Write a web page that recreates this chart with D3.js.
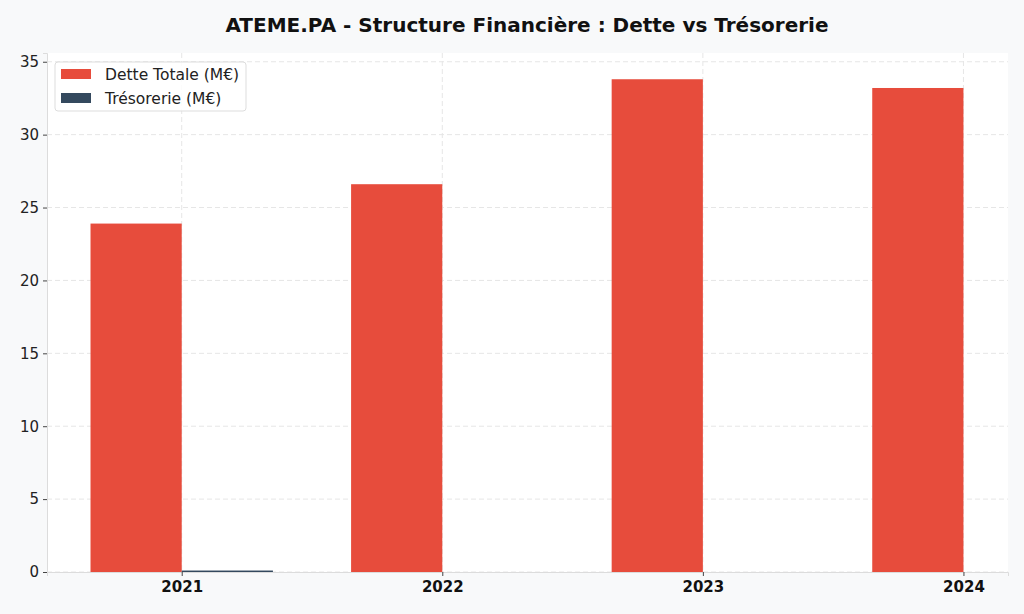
<!DOCTYPE html>
<html>
<head>
<meta charset="utf-8">
<script src="https://cdn.jsdelivr.net/npm/d3@7"></script>
<style>
  body { margin: 0; background: #f8f9fa; }
  svg { display: block; }
  svg text { font-family: "DejaVu Sans", sans-serif; }
</style>
</head>
<body>
<div id="chart"></div>
<script>
// data
var years = ["2021", "2022", "2023", "2024"];
var dette = [23.9, 26.6, 33.8, 33.2];
var tresorerie = [0.1, 0, 0, 0];
var yTicks = [0, 5, 10, 15, 20, 25, 30, 35];
var seriesNames = ["Dette Totale (M€)", "Trésorerie (M€)"];
var seriesColors = ["#e74c3c", "#34495e"];

var W = 1024, H = 614;
var margin = {top: 53, right: 16, bottom: 42, left: 47};
var width = W - margin.left - margin.right,
    height = H - margin.top - margin.bottom;
var barW = 0.35;

var svg = d3.select("#chart").append("svg")
    .attr("width", W).attr("height", H);

svg.append("rect").attr("width", W).attr("height", H).attr("fill", "#f8f9fa");

svg.append("text")
    .attr("x", 527).attr("y", 32)
    .attr("text-anchor", "middle")
    .style("font-size", "20px").style("font-weight", "bold")
    .attr("fill", "#111")
    .text("ATEME.PA - Structure Financière : Dette vs Trésorerie");

var g = svg.append("g")
    .attr("transform", "translate(" + margin.left + "," + margin.top + ")");

g.append("rect").attr("width", width).attr("height", height).attr("fill", "#fff");

// x on category index, limits as in the picture
var x = d3.scaleLinear().domain([-0.517, 3.171]).range([0, width]);
var y = d3.scaleLinear().domain([0, 35.6]).range([height, 0]);

// grid
g.selectAll(".hgrid").data(yTicks).enter().append("line")
    .attr("x1", 0).attr("x2", width)
    .attr("y1", function(d) { return y(d); }).attr("y2", function(d) { return y(d); })
    .attr("stroke", "#e6e6e6").attr("stroke-dasharray", "5,3");
g.selectAll(".vgrid").data(years).enter().append("line")
    .attr("y1", 0).attr("y2", height)
    .attr("x1", function(d, i) { return x(i); }).attr("x2", function(d, i) { return x(i); })
    .attr("stroke", "#e6e6e6").attr("stroke-dasharray", "5,3");

// bars
g.selectAll(".dette").data(dette).enter().append("rect")
    .attr("x", function(d, i) { return x(i - barW); })
    .attr("y", function(d) { return y(d); })
    .attr("width", x(barW) - x(0))
    .attr("height", function(d) { return height - y(d); })
    .attr("fill", seriesColors[0]);

g.selectAll(".treso").data(tresorerie).enter().append("rect")
    .attr("x", function(d, i) { return x(i); })
    .attr("y", function(d) { return y(d); })
    .attr("width", x(barW) - x(0))
    .attr("height", function(d) { return height - y(d); })
    .attr("fill", seriesColors[1]);

// axes
var yAxis = g.append("g")
    .call(d3.axisLeft(y).tickValues(yTicks).tickSize(4).tickPadding(4));
yAxis.select(".domain").attr("stroke", "#dcdcdc");
yAxis.selectAll(".tick line").attr("stroke", "#444");
yAxis.selectAll("text").style("font-size", "15px").attr("fill", "#222");

var xAxis = g.append("g")
    .attr("transform", "translate(0," + height + ")")
    .call(d3.axisBottom(x).tickValues([0, 1, 2, 3])
      .tickFormat(function(d) { return years[d]; }).tickSize(4).tickPadding(5));
xAxis.select(".domain").attr("stroke", "#dcdcdc");
xAxis.selectAll(".tick line").attr("stroke", "#444");
xAxis.selectAll("text").style("font-size", "15px").style("font-weight", "bold").attr("fill", "#111");

// legend
var leg = g.append("g").attr("transform", "translate(8,9)");
leg.append("rect").attr("width", 191).attr("height", 49).attr("rx", 3)
    .attr("fill", "#fff").attr("fill-opacity", 0.85).attr("stroke", "#ddd");
seriesNames.forEach(function(name, i) {
  var row = leg.append("g").attr("transform", "translate(6," + (7 + i * 24) + ")");
  row.append("rect").attr("width", 30).attr("height", 10).attr("fill", seriesColors[i]);
  row.append("text").attr("x", 44).attr("y", 11)
      .style("font-size", "15.5px").attr("fill", "#222").text(name);
});
</script>
</body>
</html>
